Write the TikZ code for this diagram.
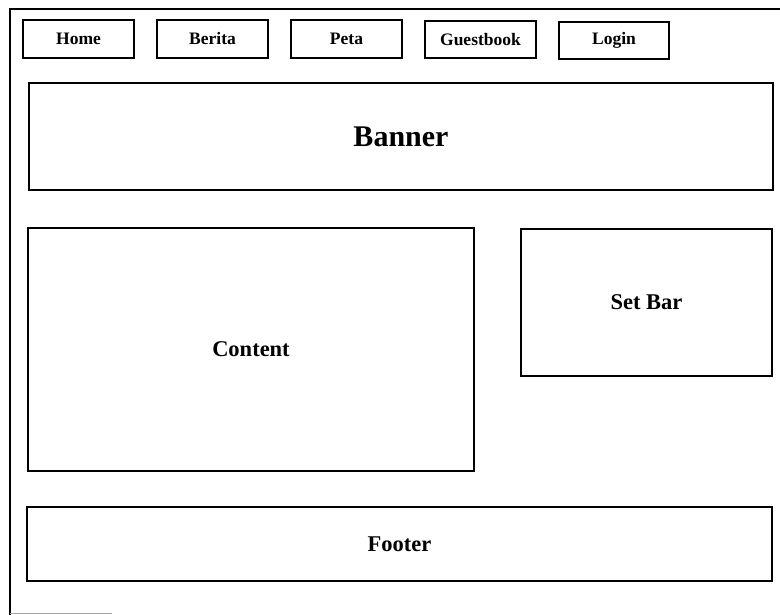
\documentclass[tikz,border=0pt]{standalone}
\usepackage{fontspec}
\setmainfont{Liberation Serif}
\begin{document}
\begin{tikzpicture}[x=1pt,y=-1pt,
  frame/.style={draw=black, line width=1.5pt, inner sep=0pt},
  menubox/.style={frame, font=\bfseries\fontsize{17.5}{21}\selectfont},
  bigbox/.style={frame, font=\bfseries\fontsize{22.5}{27}\selectfont},
  titlebox/.style={frame, font=\bfseries\fontsize{30}{36}\selectfont}]
  \useasboundingbox (0,0) rectangle (780,615);
  % page outline (runs off the right and bottom edges)
  \draw[line width=1.4pt] (10,615) -- (10,9) -- (782,9);
  \draw[line width=1.2pt, black!35] (10,613.5) -- (112,613.5);
  % navigation menu
  \node[menubox, minimum width=111pt, minimum height=38pt] (home)  at (78.5,39)  {Home};
  \node[menubox, minimum width=111pt, minimum height=38pt] (berita) at (212.5,39) {Berita};
  \node[menubox, minimum width=111pt, minimum height=38pt] (peta)  at (346.5,39) {Peta};
  \node[menubox, minimum width=111pt, minimum height=37pt] (guest) at (480.5,39.5) {Guestbook};
  \node[menubox, minimum width=110pt, minimum height=37pt] (login) at (614,40.5) {Login};
  % page regions
  \node[titlebox, minimum width=744pt, minimum height=107pt] (banner)  at (401,136.5) {Banner};
  \node[bigbox, minimum width=446pt, minimum height=243pt] (content) at (251,349.5) {Content};
  \node[bigbox, minimum width=251pt, minimum height=147pt] (setbar)  at (646.5,302.5) {Set Bar};
  \node[bigbox, minimum width=745pt, minimum height=74pt] (footer)  at (399.5,544) {Footer};
\end{tikzpicture}
\end{document}
